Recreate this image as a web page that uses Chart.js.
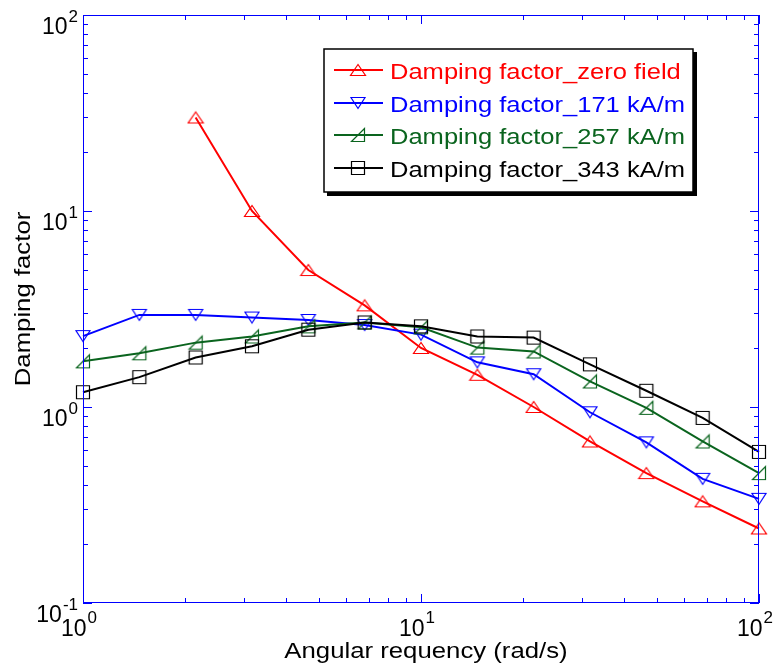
<!DOCTYPE html>
<html lang="en">
<head>
  <meta charset="UTF-8">
  <title>Damping factor</title>
  <script src="https://cdn.jsdelivr.net/npm/chart.js"></script>
  <style>
    body { margin: 0; background: #fff; }
    canvas { display: block; }
  </style>
</head>
<body>
  <canvas id="dampingChart" width="773" height="672"></canvas>

  <script>
    // Angular frequency (rad/s), six points per decade
    const omega = [1, 1.468, 2.154, 3.162, 4.642, 6.813, 10, 14.68, 21.54, 31.62, 46.42, 68.13, 100];

    // Damping factor for each applied field
    const zeroField = [null, null, 30, 10, 5.0, 3.3, 2.0, 1.46, 1.0, 0.667, 0.46, 0.33, 0.24];
    const field171 = [2.3, 2.95, 2.95, 2.86, 2.78, 2.62, 2.34, 1.69, 1.47, 0.94, 0.66, 0.43, 0.34];
    const field257 = [1.71, 1.88, 2.13, 2.29, 2.58, 2.70, 2.55, 2.01, 1.92, 1.35, 0.99, 0.667, 0.46];
    const field343 = [1.19, 1.42, 1.79, 2.04, 2.48, 2.70, 2.58, 2.29, 2.26, 1.65, 1.21, 0.88, 0.59];

    const seriesLabels = [
      'Damping factor_zero field',
      'Damping factor_171 kA/m',
      'Damping factor_257 kA/m',
      'Damping factor_343 kA/m'
    ];

    // Axis decades (exponents) for the tick labels
    const xDecades = [0, 1, 2];
    const yDecades = [-1, 0, 1, 2];

    const AXIS_BLUE = '#0000ff';
    const FONT = '"Liberation Sans", Arial, sans-serif';

    // Hollow markers drawn on small canvases, used as point styles
    function makeMarker(kind, color) {
      const c = document.createElement('canvas');
      c.width = 18;
      c.height = 18;
      const g = c.getContext('2d');
      g.strokeStyle = color;
      g.lineWidth = 1.2;
      g.beginPath();
      if (kind === 'up') {
        g.moveTo(9, 3.5); g.lineTo(1.5, 14.5); g.lineTo(16.5, 14.5); g.closePath();
      } else if (kind === 'down') {
        g.moveTo(2, 3.5); g.lineTo(16, 3.5); g.lineTo(9, 14.5); g.closePath();
      } else if (kind === 'corner') {
        g.moveTo(2.5, 15.5); g.lineTo(15.5, 15.5); g.lineTo(15.5, 2.5); g.closePath();
      } else {
        g.rect(2.5, 2.5, 13, 13);
      }
      g.stroke();
      return c;
    }

    function toPoints(values) {
      return omega.map((w, i) => ({ x: w, y: values[i] }));
    }

    const colors = ['#ff0000', '#0000ff', '#0a641e', '#000000'];
    const markers = [
      makeMarker('up', colors[0]),
      makeMarker('down', colors[1]),
      makeMarker('corner', colors[2]),
      makeMarker('square', colors[3])
    ];
    const series = [zeroField, field171, field257, field343];

    const datasets = series.map((values, i) => ({
      label: seriesLabels[i],
      data: toPoints(values),
      borderColor: colors[i],
      borderWidth: 2,
      pointStyle: markers[i],
      pointRadius: 7,
      fill: false,
      tension: 0,
      clip: false,
      order: 4 - i
    }));

    // Text with a horizontal stretch
    function wideText(ctx, str, x, y, stretch, align) {
      ctx.save();
      ctx.translate(x, y);
      ctx.scale(stretch, 1);
      ctx.textAlign = align;
      ctx.fillText(str, 0, 0);
      ctx.restore();
    }

    // Box, log ticks, power-of-ten labels, axis titles and legend
    const framePlugin = {
      id: 'frame',
      afterDraw(chart) {
        const ctx = chart.ctx;
        const area = chart.chartArea;
        const xs = chart.scales.x;
        const ys = chart.scales.y;

        ctx.save();
        ctx.strokeStyle = AXIS_BLUE;
        ctx.lineWidth = 1;
        ctx.strokeRect(area.left + 0.5, area.top + 0.5, area.right - area.left - 1, area.bottom - area.top - 1);

        ctx.beginPath();
        for (let e = 0; e < 2; e++) {
          for (let m = 1; m <= 10; m++) {
            const px = Math.round(xs.getPixelForValue(m * Math.pow(10, e))) + 0.5;
            const len = (m === 1 || m === 10) ? 9 : 5;
            ctx.moveTo(px, area.bottom); ctx.lineTo(px, area.bottom - len);
            ctx.moveTo(px, area.top); ctx.lineTo(px, area.top + len);
          }
        }
        for (let e = -1; e < 2; e++) {
          for (let m = 1; m <= 10; m++) {
            const py = Math.round(ys.getPixelForValue(m * Math.pow(10, e))) + 0.5;
            const len = (m === 1 || m === 10) ? 9 : 5;
            ctx.moveTo(area.left, py); ctx.lineTo(area.left + len, py);
            ctx.moveTo(area.right, py); ctx.lineTo(area.right - len, py);
          }
        }
        ctx.stroke();

        // tick labels 10^n
        ctx.fillStyle = '#000';
        ctx.textBaseline = 'alphabetic';
        const baseFont = '23px ' + FONT;
        const supFont = '17px ' + FONT;

        xDecades.forEach(n => {
          const px = xs.getPixelForValue(Math.pow(10, n));
          ctx.font = baseFont;
          const w10 = ctx.measureText('10').width;
          const left = px - 22;
          ctx.textAlign = 'left';
          ctx.fillText('10', left, 636);
          ctx.font = supFont;
          ctx.fillText(String(n), left + w10 + 1, 623);
        });

        yDecades.forEach(n => {
          const py = ys.getPixelForValue(Math.pow(10, n));
          ctx.font = supFont;
          const sup = String(n);
          const wSup = ctx.measureText(sup).width;
          ctx.textAlign = 'right';
          ctx.fillText(sup, 78, py + 7);
          ctx.font = baseFont;
          ctx.fillText('10', 78 - wSup - 1, py + 18.5);
        });

        // axis titles
        ctx.font = '22px ' + FONT;
        wideText(ctx, 'Angular requency (rad/s)', 426, 658, 1.17, 'center');
        ctx.save();
        ctx.translate(30, 299);
        ctx.rotate(-Math.PI / 2);
        wideText(ctx, 'Damping factor', 0, 0, 1.17, 'center');
        ctx.restore();

        // legend
        const box = { l: 324, t: 49, r: 693, b: 192 };
        ctx.fillStyle = '#000';
        ctx.fillRect(box.l + 3, box.t + 3, box.r - box.l + 1, box.b - box.t + 1);
        ctx.fillStyle = '#fff';
        ctx.fillRect(box.l, box.t, box.r - box.l, box.b - box.t);
        ctx.strokeStyle = '#000';
        ctx.lineWidth = 1.5;
        ctx.strokeRect(box.l, box.t, box.r - box.l, box.b - box.t);

        ctx.font = '22px ' + FONT;
        chart.data.datasets.forEach((ds, i) => {
          const base = 79 + i * 32.7;
          const ly = Math.round(base - 9);
          ctx.strokeStyle = ds.borderColor;
          ctx.lineWidth = 2;
          ctx.beginPath();
          ctx.moveTo(334, ly);
          ctx.lineTo(383, ly);
          ctx.stroke();
          ctx.drawImage(ds.pointStyle, 358 - 9, ly - 9);
          ctx.fillStyle = ds.borderColor;
          wideText(ctx, ds.label, 390, base, 1.16, 'left');
        });
        ctx.restore();
      }
    };

    const ctx = document.getElementById('dampingChart').getContext('2d');
    const dampingChart = new Chart(ctx, {
      type: 'line',
      data: { datasets: datasets },
      options: {
        responsive: false,
        animation: false,
        layout: {
          padding: { left: 83, right: 14, top: 15, bottom: 69 }
        },
        plugins: {
          legend: { display: false },
          tooltip: { enabled: false }
        },
        scales: {
          x: { type: 'logarithmic', min: 1, max: 100, display: false },
          y: { type: 'logarithmic', min: 0.1, max: 100, display: false }
        }
      },
      plugins: [framePlugin]
    });
  </script>
</body>
</html>
